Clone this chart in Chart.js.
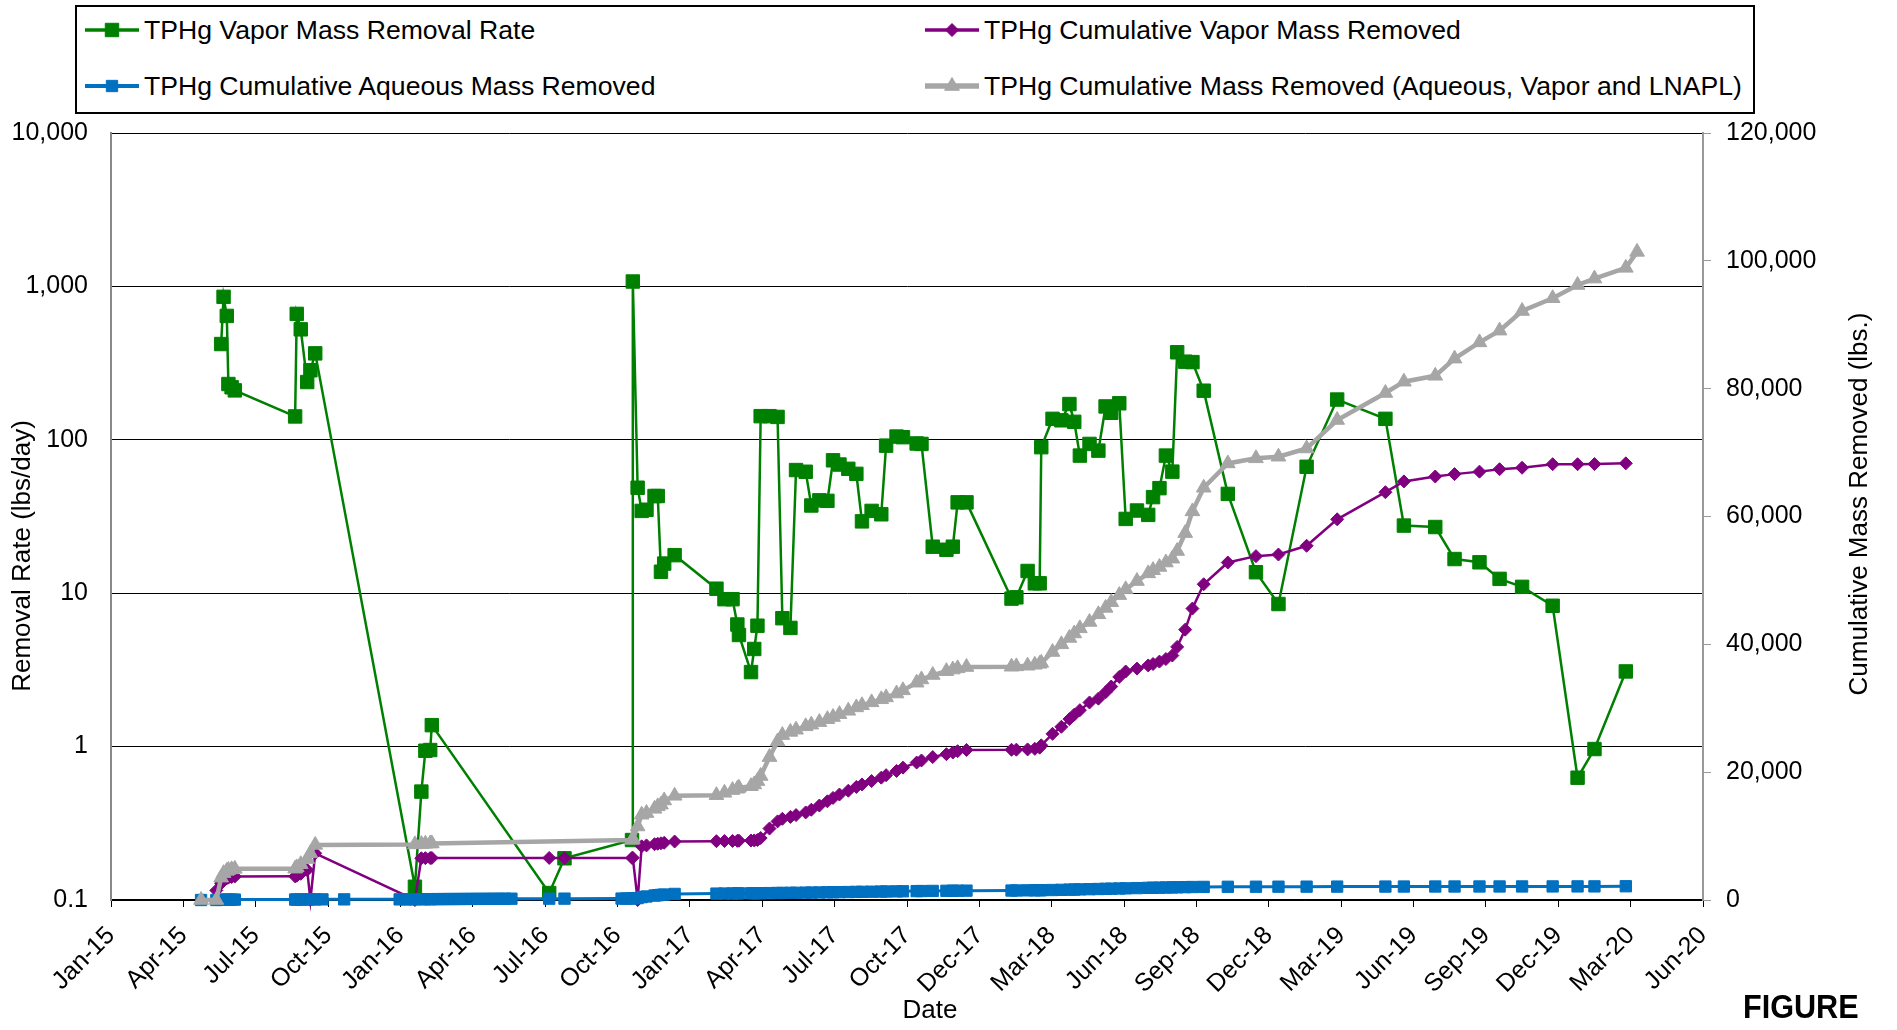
<!DOCTYPE html>
<html lang="en">
<head>
<meta charset="utf-8">
<title>TPHg Mass Removal</title>
<script src="https://cdn.jsdelivr.net/npm/chart.js@4.4.1/dist/chart.umd.min.js"></script>
<style>
  html, body { margin: 0; padding: 0; background: #fff; }
  #wrap { position: relative; width: 1897px; height: 1030px; font-family: "Liberation Sans", Arial, sans-serif; color: #000; }
  #chart { position: absolute; left: 0; top: 0; }
  #legend { position: absolute; left: 75px; top: 5px; width: 1676px; height: 105px; border: 2px solid #000; background: #fff; }
  .item { position: absolute; height: 32px; display: flex; align-items: center; font-size: 26.6px; white-space: nowrap; }
  .item canvas { margin-right: 5px; }
  #figure { position: absolute; left: 1743px; top: 990px; font-size: 34px; line-height: 32px; font-weight: bold; transform: scaleX(0.9); transform-origin: left top; }
</style>
</head>
<body>
<div id="wrap">
  <canvas id="chart" width="1897" height="1030"></canvas>
  <div id="legend"></div>
  <div id="figure">FIGURE</div>
</div>
<script>
// sampling dates (one row per group of readings)
var dates = [
  // 2015
  '2015-05-07','2015-05-26','2015-06-01','2015-06-04','2015-06-08','2015-06-10','2015-06-14','2015-06-18',
  '2015-09-01','2015-09-03','2015-09-08','2015-09-16','2015-09-20','2015-09-26','2015-10-05','2015-11-01',
  // 2016
  '2016-01-09','2016-01-16','2016-01-23','2016-01-28','2016-02-05','2016-02-10','2016-02-16','2016-02-18',
  '2016-02-25','2016-03-03','2016-03-10','2016-03-17','2016-03-24','2016-03-31','2016-04-07','2016-04-14',
  '2016-04-21','2016-04-28','2016-05-05','2016-05-12','2016-05-19','2016-05-27','2016-07-13','2016-08-01',
  '2016-10-11','2016-10-17','2016-10-24','2016-10-25','2016-10-31','2016-11-05','2016-11-11','2016-11-21',
  '2016-11-25','2016-11-29','2016-12-03','2016-12-16',
  // 2017
  '2017-02-06','2017-02-16','2017-02-26','2017-03-04','2017-03-06','2017-03-21','2017-03-25','2017-03-29',
  '2017-04-02','2017-04-13','2017-04-23','2017-04-29','2017-05-09','2017-05-16','2017-05-28','2017-06-04',
  '2017-06-14','2017-06-24','2017-07-01','2017-07-09','2017-07-20','2017-07-30','2017-08-06','2017-08-18',
  '2017-08-30','2017-09-05','2017-09-18','2017-09-26','2017-10-13','2017-10-19','2017-11-02','2017-11-19',
  '2017-11-27','2017-12-03','2017-12-14',
  // 2018
  '2018-02-08','2018-02-14','2018-02-28','2018-03-09','2018-03-15','2018-03-17','2018-03-31','2018-04-11',
  '2018-04-21','2018-04-27','2018-05-04','2018-05-16','2018-05-27','2018-06-05','2018-06-12','2018-06-22',
  '2018-06-30','2018-07-14','2018-07-28','2018-08-03','2018-08-11','2018-08-19','2018-08-27','2018-09-02',
  '2018-09-12','2018-09-21','2018-10-05','2018-11-04','2018-12-09',
  // 2019 - 2020
  '2019-01-06','2019-02-10','2019-03-20','2019-05-19','2019-06-11','2019-07-20','2019-08-13','2019-09-13',
  '2019-10-08','2019-11-05','2019-12-13','2020-01-13','2020-02-03','2020-03-13','2020-03-27'
];

// TPHg vapor mass removal rate (lbs/day)
var vaporRate = [
  null, null, 421, 855, 642, 231, 220, 210,
  142, 662, 525, 238, 284, 366, null, null,
  null, null, null, 0.122, 0.509, 0.94, 0.95, 1.38,
  null, null, null, null, null, null, null, null,
  null, null, null, null, null, null, 0.111, 0.187,
  null, null, 0.246, 1076, 48.7, 34.4, 35, 43,
  43, 13.8, 15.6, 17.7,
  10.7, 9.14, 9.14, 6.25, 5.34, 3.06, 4.33, 6.14,
  142.6, 142.6, 141, 6.87, 5.94, 63.5, 61.9, 37.3,
  40.3, 40, 73.5, 69, 64.7, 60, 29.4, 34.4,
  32.7, 91.6, 105, 104, 94.6, 94, 20.1, 19.2,
  20.1, 39.1, 39.1,
  9.22, 9.4, 13.96, 11.6, 11.6, 89.5, 137, 134,
  171, 131, 78.9, 94, 85, 165, 150, 173,
  30.5, 34.6, 32.4, 42.3, 48.4, 78.9, 62, 372,
  323, 321, 209, 44.4, 13.7,
  8.5, 66.7, 183, 137, 27.6, 27, 16.7, 15.9,
  12.4, 11, 8.28, 0.627, 0.964, 3.09, null
];

// TPHg cumulative vapor mass removed (lbs)
var vaporCum = [
  null, 1500, 2600, 3100, 3400, 3500, 3600, 3680,
  3700, 3800, 4100, 4700, 0, 7300, null, null,
  null, null, null, 0, 6530, 6550, 6560, 6580,
  null, null, null, null, null, null, null, null,
  null, null, null, null, null, null, 6580, 6580,
  null, null, 6580, 6600, 0, 8400, 8540, 8730,
  8800, 8870, 8950, 9150,
  9200, 9220, 9240, 9260, 9270, 9300, 9320, 9380,
  9700, 11180, 12300, 12700, 13000, 13280, 13700, 14120,
  14780, 15440, 15970, 16500, 17100, 17690, 18080, 18610,
  19140, 19530, 20190, 20710, 21500, 21830, 22360, 22820,
  23080, 23280, 23480,
  23500, 23520, 23560, 23650, 23830, 24200, 26000, 27100,
  28300, 29000, 29700, 30900, 31500, 32500, 33400, 34900,
  35750, 36200, 36700, 36920, 37300, 37700, 38250, 39600,
  42300, 45600, 49400, 52800, 53800,
  54050, 55420, 59560, 63800, 65490, 66260, 66630, 67020,
  67400, 67630, 68180, 68180, 68200, 68320, null
];

// TPHg cumulative aqueous mass removed (lbs)
var aqueousCum = [
  0, 0, 30, 40, 50, 55, 60, 65,
  70, 75, 80, 85, 90, 95, 100, 100,
  100, 105, 110, 115, 120, 125, 130, 135,
  140, 145, 150, 155, 160, 165, 170, 175,
  180, 185, 190, 195, 200, 205, 210, 215,
  220, 230, 240, 250, 300, 450, 550, 700,
  750, 800, 850, 950,
  1000, 1010, 1020, 1030, 1035, 1050, 1055, 1060,
  1065, 1080, 1095, 1105, 1120, 1130, 1150, 1160,
  1180, 1200, 1210, 1225, 1245, 1265, 1280, 1300,
  1320, 1330, 1350, 1365, 1390, 1400, 1420, 1440,
  1450, 1455, 1465,
  1480, 1490, 1510, 1520, 1530, 1535, 1560, 1590,
  1620, 1640, 1660, 1690, 1720, 1750, 1770, 1800,
  1820, 1860, 1900, 1915, 1935, 1955, 1975, 1990,
  2010, 2030, 2050, 2070, 2080,
  2085, 2090, 2095, 2100, 2105, 2110, 2112, 2115,
  2118, 2120, 2125, 2128, 2130, 2150, null
];

// TPHg cumulative mass removed, aqueous + vapor + LNAPL (lbs)
var totalCum = [
  0, 0, 3500, 4200, 4550, 4700, 4800, 4870,
  4900, 5100, 5600, 6400, 7300, 8620, null, null,
  null, null, null, 8700, 8750, 8800, 8830, 8850,
  null, null, null, null, null, null, null, null,
  null, null, null, null, null, null, null, null,
  null, null, 9400, 9530, 11500, 13340, 13600, 14260,
  14650, 14910, 15570, 16300,
  16400, 16770, 17200, 17400, 17550, 17800, 18080, 18600,
  19400, 22360, 24800, 25800, 26300, 26640, 27170, 27430,
  27830, 28290, 28620, 29080, 29600, 30130, 30460, 30920,
  31400, 31700, 32300, 32800, 34000, 34500, 35200, 35800,
  36050, 36250, 36450,
  36500, 36550, 36650, 36800, 36950, 37100, 38800, 40000,
  41000, 41700, 42500, 43500, 44700, 45700, 46600, 47700,
  48600, 49900, 51100, 51600, 52100, 52800, 53400, 54600,
  57400, 60800, 64500, 68300, 69100,
  69350, 70640, 75100, 79320, 81090, 82010, 84700, 87240,
  89080, 92150, 94150, 96220, 97220, 98900, 101400
];

var xStartDate = '2015-01-15';
var xTickStepDays = 90;
var xTickLabels = ['Jan-15','Apr-15','Jul-15','Oct-15','Jan-16','Apr-16','Jul-16','Oct-16',
  'Jan-17','Apr-17','Jul-17','Oct-17','Dec-17','Mar-18','Jun-18','Sep-18','Dec-18',
  'Mar-19','Jun-19','Sep-19','Dec-19','Mar-20','Jun-20'];
var leftTicks = [0.1, 1, 10, 100, 1000, 10000];
var leftTickLabels = ['0.1', '1', '10', '100', '1,000', '10,000'];

var seriesNames = [
  'TPHg Vapor Mass Removal Rate',
  'TPHg Cumulative Vapor Mass Removed',
  'TPHg Cumulative Aqueous Mass Removed',
  'TPHg Cumulative Mass Removed (Aqueous, Vapor and LNAPL)'
];
var xTitle = 'Date';
var leftTitle = 'Removal Rate (lbs/day)';
var rightTitle = 'Cumulative Mass Removed (lbs.)';

function toDay(s) {
  return Date.UTC(+s.slice(0, 4), +s.slice(5, 7) - 1, +s.slice(8, 10)) / 864e5;
}
function points(values) {
  return dates.map(function (d, i) { return { x: toDay(d), y: values[i] }; });
}

var xStart = toDay(xStartDate);
var xTicks = xTickLabels.map(function (_, i) { return xStart + i * xTickStepDays; });

Chart.defaults.font.family = '"Liberation Sans", Arial, sans-serif';
Chart.defaults.color = '#000';

function line(label, values, color, axis, style, radius, width, order) {
  return {
    label: label, data: points(values), yAxisID: axis,
    borderColor: color, backgroundColor: color, borderWidth: width,
    pointStyle: style, pointRadius: radius, pointBorderWidth: 1,
    pointBackgroundColor: color, pointBorderColor: color,
    spanGaps: true, tension: 0, clip: false, order: order
  };
}

// axis titles drawn by hand so both vertical ones read bottom-to-top
var axisTitles = {
  id: 'axisTitles',
  afterDraw: function (chart) {
    var ctx = chart.ctx;
    ctx.save();
    ctx.fillStyle = '#000';
    ctx.font = '26px "Liberation Sans", Arial, sans-serif';
    ctx.textAlign = 'center';
    ctx.textBaseline = 'middle';
    ctx.fillText(xTitle, 930, 1011);
    ctx.translate(23, 556);
    ctx.rotate(-Math.PI / 2);
    ctx.fillText(leftTitle, 0, 0);
    ctx.restore();
    ctx.save();
    ctx.fillStyle = '#000';
    ctx.font = '26px "Liberation Sans", Arial, sans-serif';
    ctx.textAlign = 'center';
    ctx.textBaseline = 'middle';
    ctx.translate(1860, 504);
    ctx.rotate(-Math.PI / 2);
    ctx.fillText(rightTitle, 0, 0);
    ctx.restore();
  }
};

var chart = new Chart(document.getElementById('chart'), {
  type: 'line',
  data: {
    datasets: [
      line(seriesNames[0], vaporRate, '#008000', 'y', 'rect', 9.5, 2.5, 4),
      line(seriesNames[1], vaporCum, '#800080', 'y2', 'rectRot', 6.5, 2.5, 3),
      line(seriesNames[2], aqueousCum, '#0070C0', 'y2', 'rect', 8, 3, 2),
      line(seriesNames[3], totalCum, '#A6A6A6', 'y2', 'triangle', 8.5, 4.5, 1)
    ]
  },
  options: {
    responsive: false,
    animation: false,
    devicePixelRatio: 1,
    layout: { padding: { top: 133, left: 0, right: 0, bottom: 0 } },
    plugins: { legend: { display: false }, tooltip: { enabled: false } },
    scales: {
      x: {
        type: 'linear',
        min: xStart,
        max: xTicks[xTicks.length - 1],
        afterBuildTicks: function (axis) { axis.ticks = xTicks.map(function (v) { return { value: v }; }); },
        afterFit: function (s) { s.height = 130; },
        ticks: {
          autoSkip: false, minRotation: 45, maxRotation: 45, padding: 14,
          font: { size: 25 },
          callback: function (v, i) { return xTickLabels[i]; }
        },
        grid: { drawOnChartArea: false, drawTicks: true, tickLength: 7, color: '#000' },
        border: { color: '#000', width: 1.5 }
      },
      y: {
        type: 'logarithmic',
        position: 'left',
        min: 0.1,
        max: 10000,
        afterBuildTicks: function (axis) { axis.ticks = leftTicks.map(function (v) { return { value: v }; }); },
        afterFit: function (s) { s.width = 111; },
        ticks: {
          padding: 23, font: { size: 25 },
          callback: function (v, i) { return leftTickLabels[i]; }
        },
        grid: { color: '#000', lineWidth: 1, drawTicks: false },
        border: { color: '#888', width: 2 }
      },
      y2: {
        type: 'linear',
        position: 'right',
        min: 0,
        max: 120000,
        afterFit: function (s) { s.width = 194; },
        ticks: {
          stepSize: 20000, padding: 15, font: { size: 25 },
          callback: function (v) { return v.toLocaleString('en-US'); }
        },
        grid: { drawOnChartArea: false, drawTicks: true, tickLength: 8, color: '#999' },
        border: { color: '#999', width: 2 }
      }
    }
  },
  plugins: [axisTitles]
});

// legend: two columns, two rows, inside a framed box
var slots = [[8, 7], [848, 7], [8, 63], [848, 63]];
var legendBox = document.getElementById('legend');
chart.data.datasets.forEach(function (ds, i) {
  var item = document.createElement('div');
  item.className = 'item';
  item.style.left = slots[i][0] + 'px';
  item.style.top = slots[i][1] + 'px';
  var c = document.createElement('canvas');
  c.width = 54; c.height = 32;
  var g = c.getContext('2d');
  g.strokeStyle = ds.borderColor;
  g.lineWidth = ds.borderWidth + 1;
  g.beginPath(); g.moveTo(0, 16); g.lineTo(54, 16); g.stroke();
  g.fillStyle = ds.backgroundColor;
  g.lineWidth = 1;
  Chart.helpers.drawPoint(g, { pointStyle: ds.pointStyle, radius: ds.pointRadius, borderWidth: 1, rotation: 0 }, 27, 16);
  item.appendChild(c);
  var t = document.createElement('span');
  t.textContent = ds.label;
  item.appendChild(t);
  legendBox.appendChild(item);
});
</script>
</body>
</html>
